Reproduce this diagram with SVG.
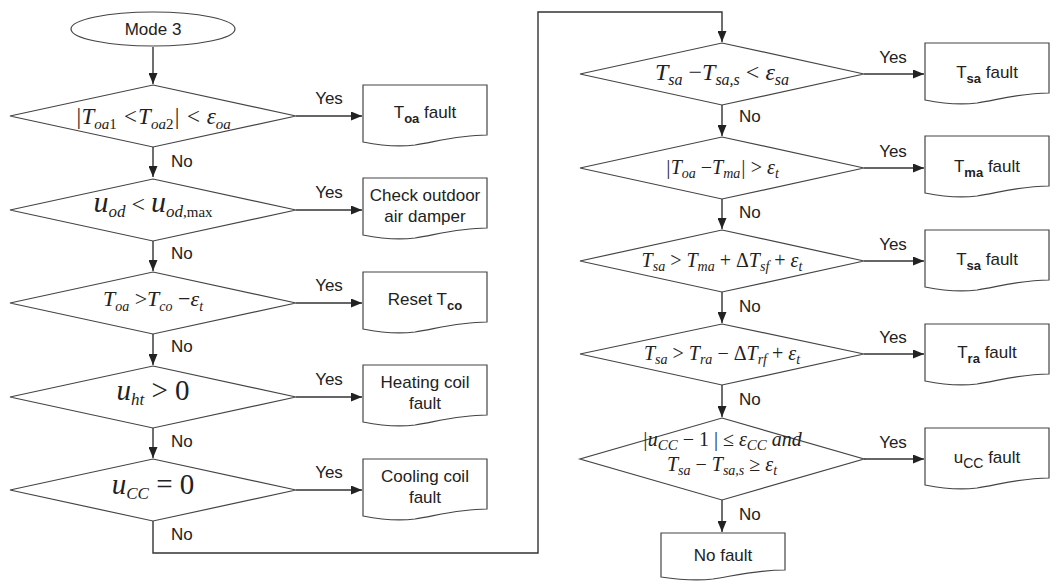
<svg xmlns="http://www.w3.org/2000/svg" width="1061" height="584" viewBox="0 0 1061 584">
<style>
.shape{fill:#fff;stroke:#444;stroke-width:1.2}
.ln{fill:none;stroke:#333;stroke-width:1.4}
.t{font-family:"Liberation Sans",Arial,sans-serif;font-size:17px;fill:#222}
.c{text-anchor:middle}
.m{font-family:"Liberation Serif","Times New Roman",serif;font-style:italic;fill:#222;text-anchor:middle}
.u{font-style:normal}
</style>
<defs>
<marker id="ah" markerWidth="11" markerHeight="9" refX="11" refY="4.5" orient="auto" markerUnits="userSpaceOnUse">
<path d="M0,0 L11,4.5 L0,9 Z" fill="#222"/>
</marker>
<path id="doc" d="M0,0 H124 V50 C95,50 72,57 52,60 C36,62 20,61 0,57 Z"/>
<path id="doc2" d="M0,0 H124 V37 C95,37 72,43 52,46 C36,48 20,47 0,44 Z"/>
</defs>
<rect width="1061" height="584" fill="#fff"/>

<g id="connectors">
<path class="ln" d="M153,47 V84" marker-end="url(#ah)"/>
<path class="ln" d="M296,116 H362" marker-end="url(#ah)"/>
<path class="ln" d="M153,147 V177" marker-end="url(#ah)"/>
<path class="ln" d="M296,210 H362" marker-end="url(#ah)"/>
<path class="ln" d="M153,241 V271" marker-end="url(#ah)"/>
<path class="ln" d="M296,303 H362" marker-end="url(#ah)"/>
<path class="ln" d="M153,334 V365" marker-end="url(#ah)"/>
<path class="ln" d="M296,397 H362" marker-end="url(#ah)"/>
<path class="ln" d="M153,428 V458" marker-end="url(#ah)"/>
<path class="ln" d="M296,490 H362" marker-end="url(#ah)"/>
<path class="ln" d="M153,521 V553 H538 V12 H722 V42" marker-end="url(#ah)"/>
<path class="ln" d="M864,74 H924" marker-end="url(#ah)"/>
<path class="ln" d="M722,105 V136" marker-end="url(#ah)"/>
<path class="ln" d="M864,168 H924" marker-end="url(#ah)"/>
<path class="ln" d="M722,199 V229" marker-end="url(#ah)"/>
<path class="ln" d="M864,261 H924" marker-end="url(#ah)"/>
<path class="ln" d="M722,292 V323" marker-end="url(#ah)"/>
<path class="ln" d="M864,354 H924" marker-end="url(#ah)"/>
<path class="ln" d="M722,385 V417" marker-end="url(#ah)"/>
<path class="ln" d="M864,459 H924" marker-end="url(#ah)"/>
<path class="ln" d="M722,500 V532" marker-end="url(#ah)"/>
<g class="t c">
<text x="329" y="104">Yes</text>
<text x="329" y="198">Yes</text>
<text x="329" y="291">Yes</text>
<text x="329" y="385">Yes</text>
<text x="329" y="478">Yes</text>
<text x="893" y="63">Yes</text>
<text x="893" y="157">Yes</text>
<text x="893" y="250">Yes</text>
<text x="893" y="343">Yes</text>
<text x="893" y="448">Yes</text>
</g>
<g class="t">
<text x="171" y="167">No</text>
<text x="171" y="259">No</text>
<text x="171" y="352">No</text>
<text x="171" y="447">No</text>
<text x="171" y="540">No</text>
<text x="739" y="122">No</text>
<text x="739" y="218">No</text>
<text x="739" y="312">No</text>
<text x="739" y="405">No</text>
<text x="739" y="520">No</text>
</g>
</g>

<g id="start">
<ellipse class="shape" cx="153" cy="29" rx="82" ry="17"/>
<text class="t c" x="153" y="35" font-size="19">Mode 3</text>
</g>

<g id="d1">
<polygon class="shape" points="153,85 296,116 153,147 10,116"/>
<text class="m" x="153" y="124" font-size="23">|T<tspan dy="5" font-size="15">oa</tspan><tspan class="u" font-size="15">1</tspan><tspan dy="-5"> &lt;T</tspan><tspan dy="5" font-size="15">oa</tspan><tspan class="u" font-size="15">2</tspan><tspan dy="-5">| &lt; ε</tspan><tspan dy="5" font-size="15">oa</tspan></text>
</g>
<g id="b1">
<use href="#doc" class="shape" x="363" y="85"/>
<text class="t c" x="425" y="118">T<tspan dy="5" font-size="13" font-weight="bold">oa</tspan><tspan dy="-5"> fault</tspan></text>
</g>

<g id="d2">
<polygon class="shape" points="153,179 296,210 153,241 10,210"/>
<text class="m" x="153" y="212" font-size="30">u<tspan dy="5" font-size="17">od</tspan><tspan dy="-5" class="u" font-size="24"> &lt; </tspan><tspan>u</tspan><tspan dy="5" font-size="17">od</tspan><tspan class="u" font-size="15">,max</tspan></text>
</g>
<g id="b2">
<use href="#doc" class="shape" x="363" y="178"/>
<text class="t c" x="425" y="201">Check outdoor</text>
<text class="t c" x="425" y="222">air damper</text>
</g>

<g id="d3">
<polygon class="shape" points="153,272 296,303 153,334 10,303"/>
<text class="m" x="153" y="306" font-size="22">T<tspan dy="5" font-size="14">oa</tspan><tspan dy="-5" class="u"> &gt;</tspan><tspan>T</tspan><tspan dy="5" font-size="14">co</tspan><tspan dy="-5" class="u"> −</tspan><tspan>ε</tspan><tspan dy="5" font-size="14">t</tspan></text>
</g>
<g id="b3">
<use href="#doc" class="shape" x="363" y="272"/>
<text class="t c" x="425" y="305">Reset T<tspan dy="5" font-size="13" font-weight="bold">co</tspan></text>
</g>

<g id="d4">
<polygon class="shape" points="153,366 296,397 153,428 10,397"/>
<text class="m" x="153" y="400" font-size="29">u<tspan dy="5" font-size="17">ht</tspan><tspan dy="-5" class="u"> &gt; 0</tspan></text>
</g>
<g id="b4">
<use href="#doc" class="shape" x="363" y="365"/>
<text class="t c" x="425" y="388">Heating coil</text>
<text class="t c" x="425" y="409">fault</text>
</g>

<g id="d5">
<polygon class="shape" points="153,459 296,490 153,521 10,490"/>
<text class="m" x="153" y="494" font-size="29">u<tspan dy="5" font-size="17">CC</tspan><tspan dy="-5" class="u"> = 0</tspan></text>
</g>
<g id="b5">
<use href="#doc" class="shape" x="363" y="459"/>
<text class="t c" x="425" y="482">Cooling coil</text>
<text class="t c" x="425" y="503">fault</text>
</g>

<g id="r1">
<polygon class="shape" points="722,43 864,74 722,105 580,74"/>
<text class="m" x="722" y="80" font-size="24">T<tspan dy="5" font-size="16">sa</tspan><tspan dy="-5" class="u"> −</tspan><tspan>T</tspan><tspan dy="5" font-size="16">sa,s</tspan><tspan dy="-5" class="u"> &lt; </tspan><tspan>ε</tspan><tspan dy="5" font-size="16">sa</tspan></text>
</g>
<g id="rb1">
<use href="#doc" class="shape" x="925" y="43"/>
<text class="t c" x="987" y="78">T<tspan dy="5" font-size="13" font-weight="bold">sa</tspan><tspan dy="-5"> fault</tspan></text>
</g>

<g id="r2">
<polygon class="shape" points="722,137 864,168 722,199 580,168"/>
<text class="m" x="722" y="174" font-size="20">|T<tspan dy="4" font-size="14">oa</tspan><tspan dy="-4" class="u"> −</tspan><tspan>T</tspan><tspan dy="4" font-size="14">ma</tspan><tspan dy="-4">| </tspan><tspan class="u">&gt; </tspan><tspan>ε</tspan><tspan dy="4" font-size="14">t</tspan></text>
</g>
<g id="rb2">
<use href="#doc" class="shape" x="925" y="136"/>
<text class="t c" x="987" y="172">T<tspan dy="5" font-size="13" font-weight="bold">ma</tspan><tspan dy="-5"> fault</tspan></text>
</g>

<g id="r3">
<polygon class="shape" points="722,230 864,261 722,292 580,261"/>
<text class="m" x="722" y="267" font-size="20">T<tspan dy="4" font-size="14">sa</tspan><tspan dy="-4" class="u"> &gt; </tspan><tspan>T</tspan><tspan dy="4" font-size="14">ma</tspan><tspan dy="-4" class="u"> + Δ</tspan><tspan>T</tspan><tspan dy="4" font-size="14">sf</tspan><tspan dy="-4" class="u"> + </tspan><tspan>ε</tspan><tspan dy="4" font-size="14">t</tspan></text>
</g>
<g id="rb3">
<use href="#doc" class="shape" x="925" y="230"/>
<text class="t c" x="987" y="265">T<tspan dy="5" font-size="13" font-weight="bold">sa</tspan><tspan dy="-5"> fault</tspan></text>
</g>

<g id="r4">
<polygon class="shape" points="722,324 864,354 722,385 580,354"/>
<text class="m" x="722" y="360" font-size="20">T<tspan dy="4" font-size="14">sa</tspan><tspan dy="-4" class="u"> &gt; </tspan><tspan>T</tspan><tspan dy="4" font-size="14">ra</tspan><tspan dy="-4" class="u"> − Δ</tspan><tspan>T</tspan><tspan dy="4" font-size="14">rf</tspan><tspan dy="-4" class="u"> + </tspan><tspan>ε</tspan><tspan dy="4" font-size="14">t</tspan></text>
</g>
<g id="rb4">
<use href="#doc" class="shape" x="925" y="324"/>
<text class="t c" x="987" y="358">T<tspan dy="5" font-size="13" font-weight="bold">ra</tspan><tspan dy="-5"> fault</tspan></text>
</g>

<g id="r5">
<polygon class="shape" points="722,418 864,459 722,500 580,459"/>
<text class="m" x="722" y="446" font-size="20">|u<tspan dy="4" font-size="15">CC</tspan><tspan dy="-4" class="u"> − 1 | ≤ </tspan><tspan>ε</tspan><tspan dy="4" font-size="15">CC</tspan><tspan dy="-4"> and</tspan></text>
<text class="m" x="722" y="471" font-size="20">T<tspan dy="4" font-size="14">sa</tspan><tspan dy="-4" class="u"> − </tspan><tspan>T</tspan><tspan dy="4" font-size="14">sa,s</tspan><tspan dy="-4" class="u"> ≥ </tspan><tspan>ε</tspan><tspan dy="4" font-size="14">t</tspan></text>
</g>
<g id="rb5">
<use href="#doc" class="shape" x="925" y="428"/>
<text class="t c" x="987" y="463">u<tspan dy="5" font-size="14">CC</tspan><tspan dy="-5"> fault</tspan></text>
</g>

<g id="nofault">
<use href="#doc2" class="shape" x="661" y="533"/>
<text class="t c" x="723" y="561">No fault</text>
</g>
</svg>
